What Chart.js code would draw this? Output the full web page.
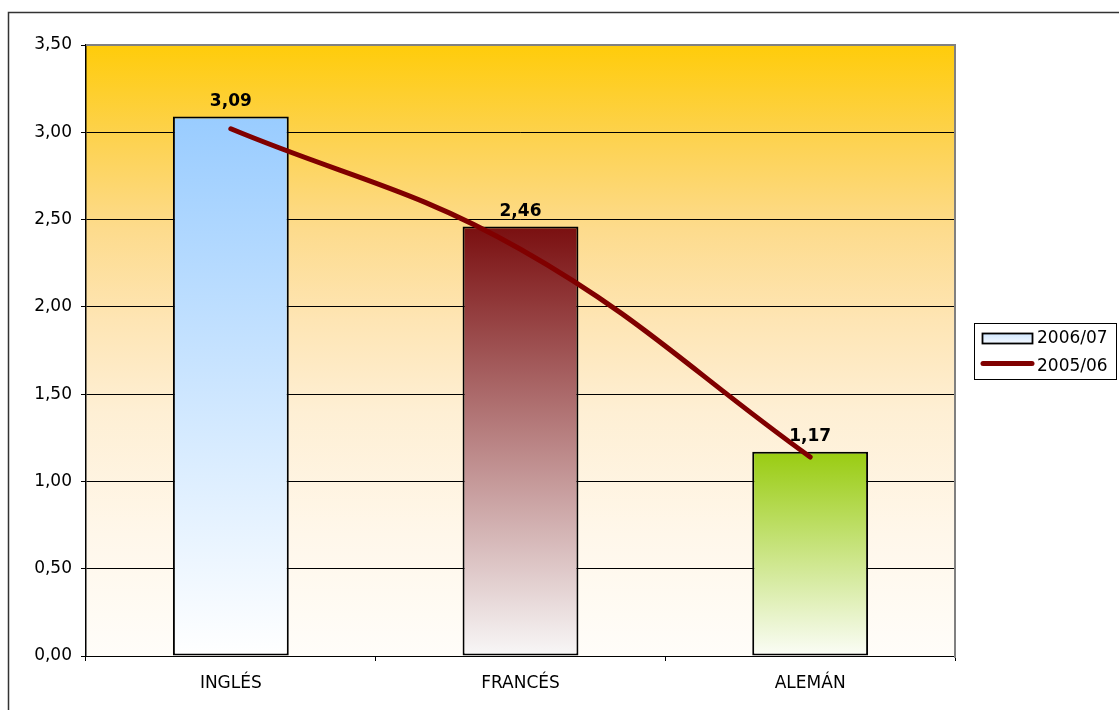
<!DOCTYPE html>
<html>
<head>
<meta charset="utf-8">
<script src="https://cdn.jsdelivr.net/npm/chart.js@4/dist/chart.umd.min.js"></script>
<style>
  html, body { margin: 0; padding: 0; background: #fff; }
  #wrap { width: 1119px; height: 710px; }
</style>
</head>
<body>
<div id="wrap"><canvas id="grafico" width="1119" height="710"></canvas></div>
<script>
// datos del gráfico
var categorias = ['INGLÉS', 'FRANCÉS', 'ALEMÁN'];
var curso0607 = [3.09, 2.46, 1.17];
var curso0506 = [3.02, 2.33, 1.14];
var etiquetasSerie = ['2006/07', '2005/06'];

// colores de cada barra (arriba -> abajo)
var coloresArriba = ['#99CCFF', '#7A0F10', '#99CC11'];
var coloresAbajo = ['#FFFFFF', '#F8F7F7', '#FBFDF7'];

var fuente = 'DejaVu Sans, Verdana, sans-serif';

function formatear(v) {
    return v.toFixed(2).replace('.', ',');
}

// degradado de cada barra
function degradadoBarra(ctx) {
    var chart = ctx.chart;
    var area = chart.chartArea;
    if (!area || ctx.type !== 'data') return coloresArriba[0];
    var y = chart.scales.y;
    var top = y.getPixelForValue(ctx.parsed.y);
    var g = chart.ctx.createLinearGradient(0, top, 0, area.bottom);
    g.addColorStop(0, coloresArriba[ctx.dataIndex]);
    g.addColorStop(1, coloresAbajo[ctx.dataIndex]);
    return g;
}

// fondo del área de trazado, marco exterior, etiquetas y leyenda
var pluginDibujo = {
    id: 'dibujo',
    beforeDraw: function (chart) {
        var c = chart.ctx, a = chart.chartArea;
        var g = c.createLinearGradient(0, a.top, 0, a.bottom);
        g.addColorStop(0, '#FFCC0A');
        g.addColorStop(0.15, '#FDD24E');
        g.addColorStop(0.3, '#FDDB8C');
        g.addColorStop(0.45, '#FEE5B4');
        g.addColorStop(0.6, '#FEEFD4');
        g.addColorStop(0.8, '#FFF7EA');
        g.addColorStop(1, '#FFFDF9');
        c.save();
        c.fillStyle = g;
        c.fillRect(a.left, a.top, a.right - a.left, a.bottom - a.top);
        // marco exterior
        c.strokeStyle = '#333';
        c.lineWidth = 1.5;
        c.beginPath();
        c.moveTo(8.5, 712);
        c.lineTo(8.5, 12.5);
        c.lineTo(1125, 12.5);
        c.stroke();
        c.restore();
    },
    afterDatasetsDraw: function (chart) {
        var c = chart.ctx, a = chart.chartArea;
        c.save();
        // borde gris superior y derecho
        c.strokeStyle = '#808080';
        c.lineWidth = 2;
        c.beginPath();
        c.moveTo(a.left, a.top);
        c.lineTo(a.right, a.top);
        c.lineTo(a.right, a.bottom + 2);
        c.stroke();

        // etiquetas de valor encima de las barras
        var meta = chart.getDatasetMeta(1);
        c.fillStyle = '#000';
        c.font = 'bold 17px ' + fuente;
        c.textAlign = 'center';
        c.textBaseline = 'alphabetic';
        meta.data.forEach(function (bar, i) {
            c.fillText(formatear(curso0607[i]), bar.x, bar.y - 11);
        });

        // leyenda
        c.fillStyle = '#fff';
        c.fillRect(974.5, 323.5, 142, 56);
        c.strokeStyle = '#000';
        c.lineWidth = 1;
        c.strokeRect(974.5, 323.5, 142, 56);
        var lg = c.createLinearGradient(0, 333, 0, 344);
        lg.addColorStop(0, '#CFE6FF');
        lg.addColorStop(1, '#F4F9FF');
        c.fillStyle = lg;
        c.fillRect(982.5, 333.5, 50, 10);
        c.lineWidth = 1.8;
        c.strokeRect(982.5, 333.5, 50, 10);
        c.strokeStyle = '#800000';
        c.lineWidth = 5;
        c.lineCap = 'round';
        c.beginPath();
        c.moveTo(983, 363.5);
        c.lineTo(1032, 363.5);
        c.stroke();
        c.fillStyle = '#000';
        c.font = '17px ' + fuente;
        c.textAlign = 'left';
        c.textBaseline = 'middle';
        c.fillText(etiquetasSerie[0], 1037, 339);
        c.fillText(etiquetasSerie[1], 1037, 367);
        c.restore();
    }
};

var ctx = document.getElementById('grafico').getContext('2d');
var grafico = new Chart(ctx, {
    type: 'bar',
    data: {
        labels: categorias,
        datasets: [{
            type: 'line',
            label: etiquetasSerie[1],
            data: curso0506,
            borderColor: '#800000',
            borderWidth: 5,
            borderCapStyle: 'round',
            pointRadius: 0,
            tension: 0.4,
            fill: false,
            order: 0
        }, {
            type: 'bar',
            label: etiquetasSerie[0],
            data: curso0607,
            backgroundColor: degradadoBarra,
            borderColor: '#000',
            borderWidth: 2,
            borderSkipped: false,
            categoryPercentage: 1,
            barPercentage: 0.4,
            order: 1
        }]
    },
    options: {
        responsive: false,
        animation: false,
        devicePixelRatio: 1,
        layout: { padding: { left: 0, top: 45, right: 164, bottom: 0 } },
        plugins: {
            legend: { display: false },
            tooltip: { enabled: false },
            title: { display: false }
        },
        scales: {
            x: {
                offset: true,
                grid: { offset: true, drawOnChartArea: false, color: '#000', tickLength: 5 },
                border: { color: '#000', width: 1 },
                ticks: { color: '#000', font: { family: fuente, size: 17 }, padding: 12 },
                afterFit: function (s) { s.height = 54; }
            },
            y: {
                min: 0,
                max: 3.5,
                ticks: {
                    stepSize: 0.5,
                    color: '#000',
                    font: { family: fuente, size: 17 },
                    padding: 9,
                    callback: function (v) { return formatear(v); }
                },
                grid: { color: '#000', lineWidth: 1, tickLength: 5 },
                border: { color: '#000', width: 1.5 },
                afterFit: function (s) { s.width = 86; }
            }
        }
    },
    plugins: [pluginDibujo]
});
</script>
</body>
</html>
